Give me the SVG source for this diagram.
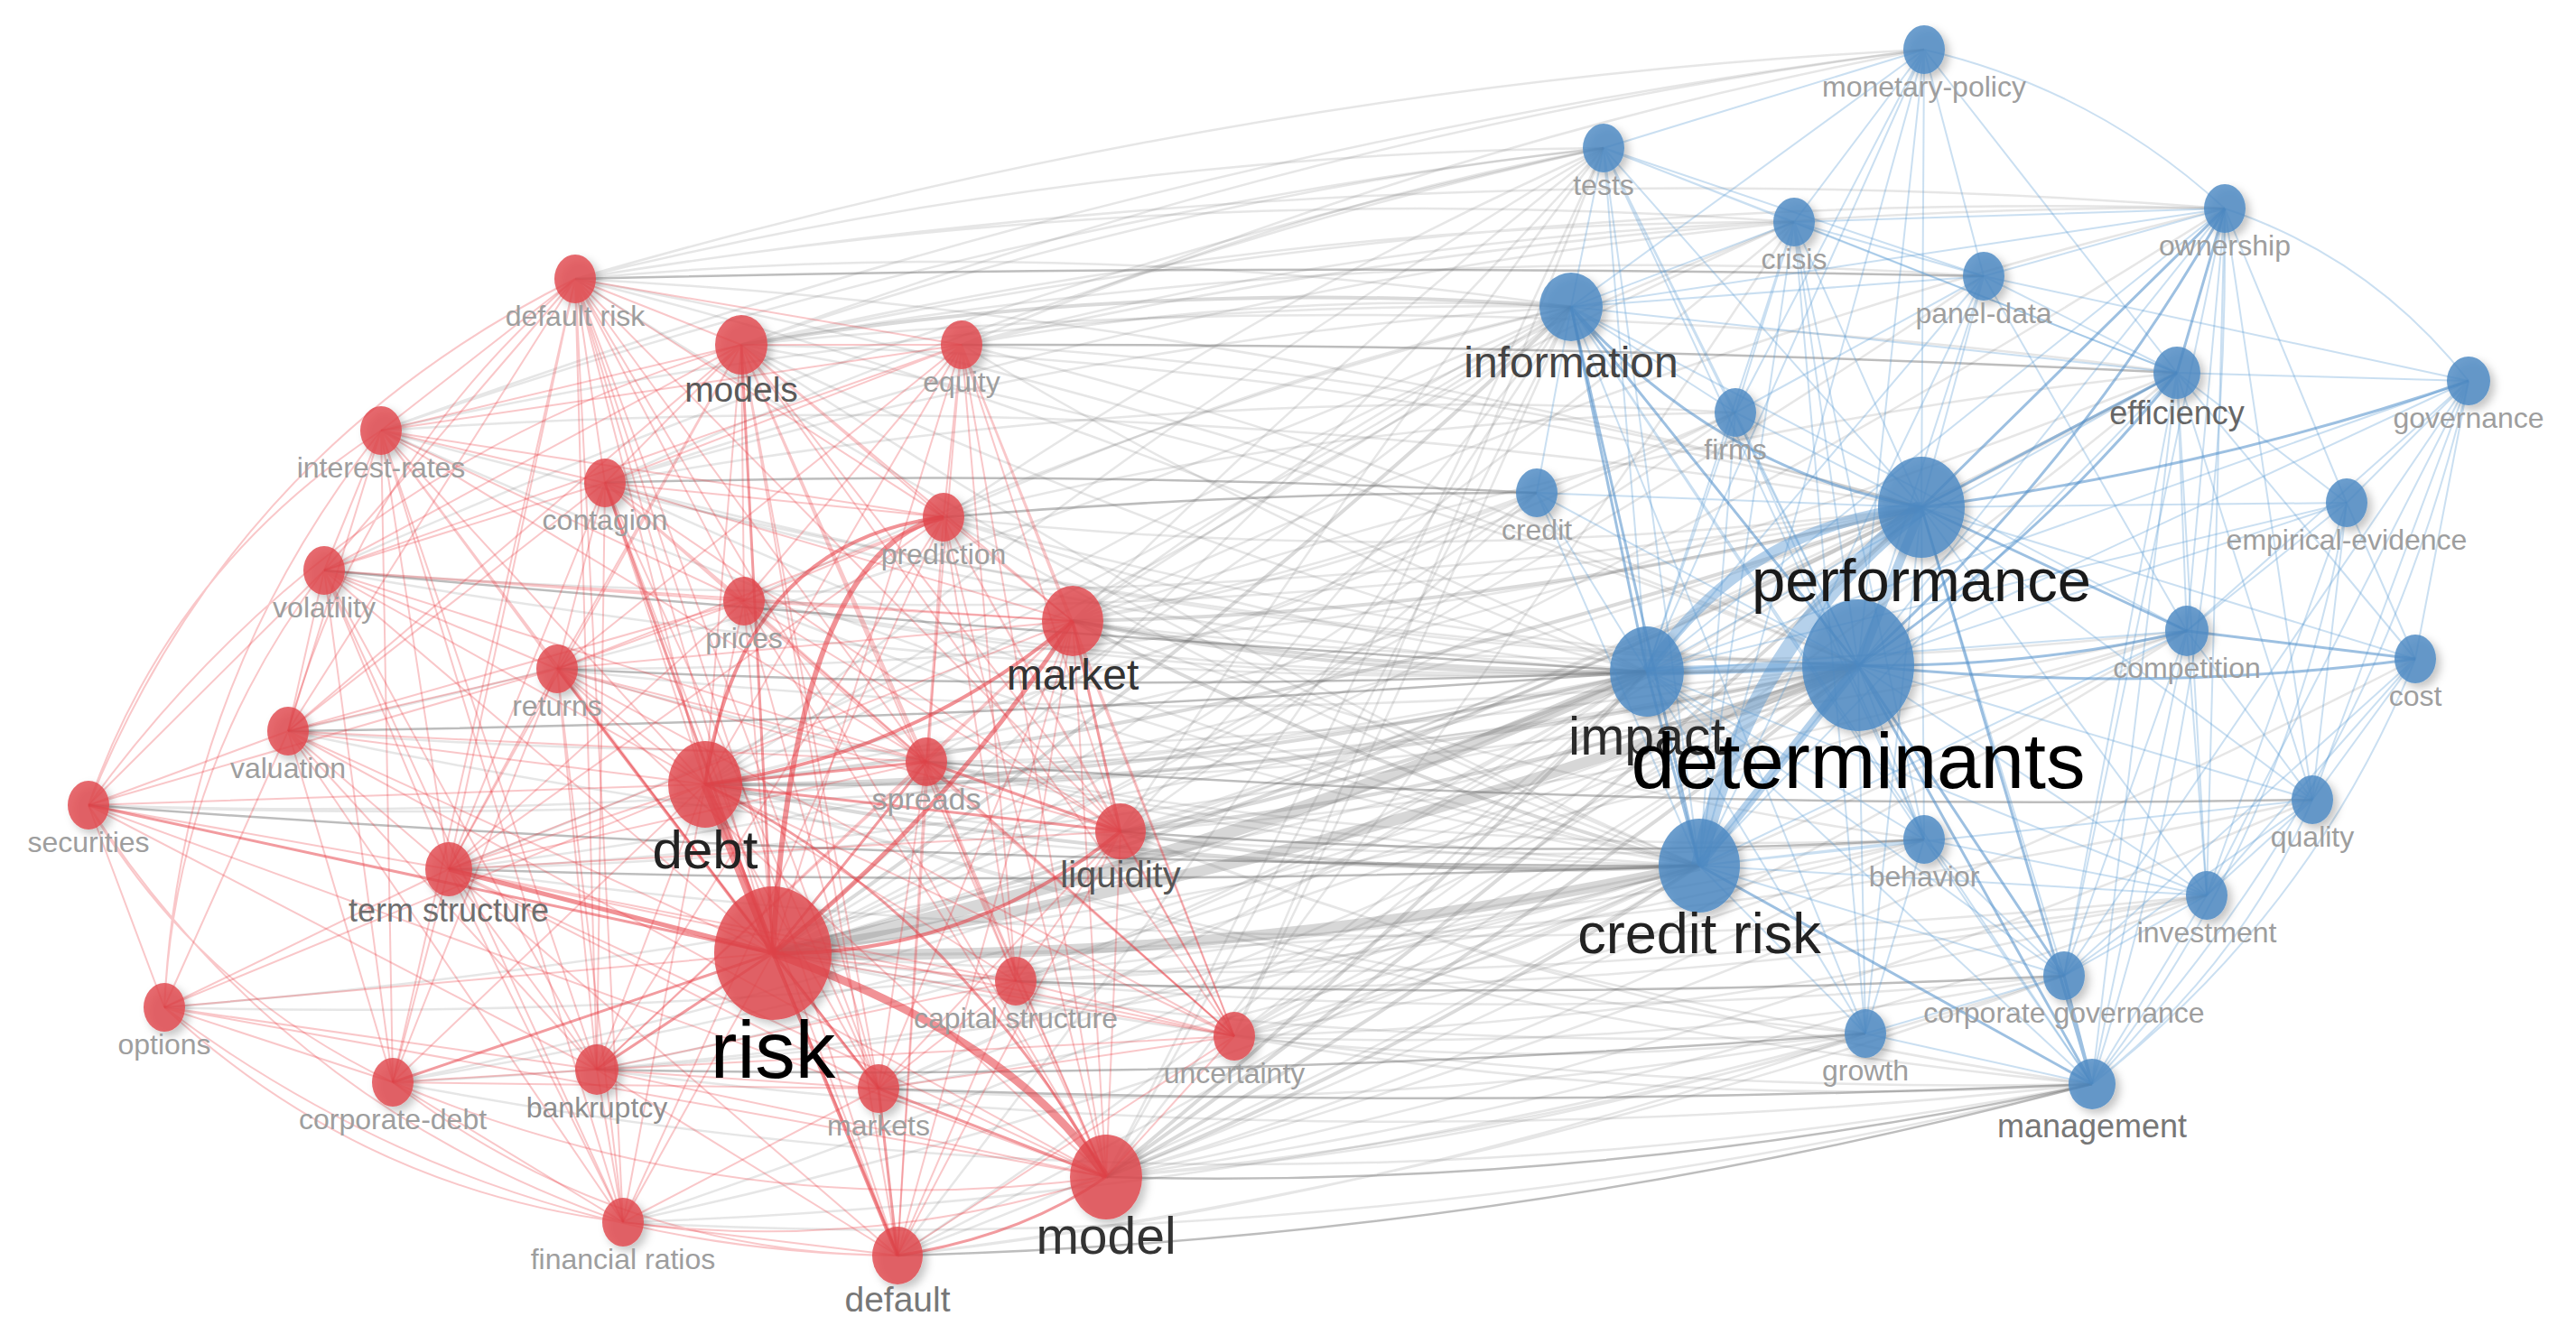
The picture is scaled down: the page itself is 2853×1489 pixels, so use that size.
<svg xmlns="http://www.w3.org/2000/svg" width="2853" height="1489" viewBox="0 0 2853 1489">
<defs>
<style>
.g{fill:none;stroke:#7a7a7a;stroke-opacity:.19;stroke-width:2.5}
.gd{fill:none;stroke:#5a5a5a;stroke-opacity:.4;stroke-width:2.5}
.gm{fill:none;stroke:#777;stroke-opacity:.27;stroke-width:4}
.gt{fill:none;stroke:#8a8a8a;stroke-opacity:.34}
.r{fill:none;stroke:#e8373e;stroke-opacity:.28;stroke-width:2}
.rm{fill:none;stroke:#e5383f;stroke-opacity:.5;stroke-width:3}
.rt{fill:none;stroke:#e5383f;stroke-opacity:.55}
.b{fill:none;stroke:#5b9ad3;stroke-opacity:.32;stroke-width:2}
.bm{fill:none;stroke:#4d8dc9;stroke-opacity:.55;stroke-width:3}
.bt{fill:none;stroke:#5b9ad3;stroke-opacity:.45}
.nr{fill:#e0434a;fill-opacity:.8;filter:url(#sh)}
.nb{fill:#4c89c3;fill-opacity:.82;filter:url(#sh)}
text{font-family:"Liberation Sans",Arial,sans-serif;text-anchor:middle}
.ls{font-size:32px;fill:#9e9e9e}
</style>
<filter id="sh" x="-50%" y="-50%" width="200%" height="200%"><feDropShadow dx="5" dy="5" stdDeviation="5" flood-color="#000" flood-opacity=".28"/></filter>
</defs>
<rect width="2853" height="1489" fill="#fff"/>
<g id="connectors">
<path class="gt" stroke-width="14" d="M856 1056Q1340 958 1824 744"/>
<path class="gt" stroke-width="12" d="M856 1056Q1457 969 2058 737"/>
<path class="gt" stroke-width="12" d="M856 1056Q1369 1070 1882 959"/>
<path class="gm" stroke-width="6" d="M856 1056Q1492 885 2128 562"/>
<path class="gm" d="M856 1056Q1298 751 1740 340"/>
<path class="g" d="M856 1056Q1279 852 1702 546M856 1056Q1389 821 1922 457M856 1056Q1316 665 1776 164M856 1056Q1422 719 1987 246M856 1056Q1494 1070 2131 930M856 1056Q1461 1174 2066 1145M856 1056Q1587 1217 2317 1201M856 1056Q1571 1155 2286 1081M856 1056Q1650 1119 2444 992M856 1056Q1639 972 2422 699M856 1056Q1634 828 2411 413M856 1056Q1709 1073 2561 886M856 1056Q1660 740 2464 231M856 1056Q1527 761 2197 306"/>
<path class="gm" stroke-width="6" d="M781 869Q1303 870 1824 744"/>
<path class="gm" stroke-width="6" d="M781 869Q1420 880 2058 737"/>
<path class="gm" stroke-width="5" d="M781 869Q1332 980 1882 959"/>
<path class="gm" d="M781 869Q1455 797 2128 562"/>
<path class="g" d="M781 869Q1261 663 1740 340M781 869Q1279 457 1776 164M781 869Q1384 486 1987 246M781 869Q1352 731 1922 457M781 869Q1242 763 1702 546M781 869Q1456 981 2131 930M781 869Q1424 1084 2066 1145M781 869Q1549 1127 2317 1201M781 869Q1602 882 2422 699M781 869Q1596 739 2411 413"/>
<path class="gm" stroke-width="5" d="M1188 688Q1506 754 1824 744"/>
<path class="gm" stroke-width="5" d="M1188 688Q1623 765 2058 737"/>
<path class="gm" d="M1188 688Q1535 866 1882 959"/>
<path class="gm" stroke-width="3" d="M1188 688Q1658 681 2128 562"/>
<path class="g" d="M1188 688Q1464 481 1740 340M1188 688Q1482 391 1776 164M1188 688Q1588 419 1987 246M1188 688Q1555 617 1922 457M1188 688Q1445 648 1702 546M1188 688Q1660 866 2131 930M1188 688Q1805 768 2422 699M1188 688Q1800 478 2411 413M1188 688Q1826 383 2464 231"/>
<path class="gm" stroke-width="6" d="M1225 1304Q1554 1171 1882 959"/>
<path class="gm" stroke-width="5" d="M1225 1304Q1642 1071 2058 737"/>
<path class="gm" d="M1225 1304Q1525 1060 1824 744"/>
<path class="gm" stroke-width="3" d="M1225 1304Q1677 987 2128 562"/>
<path class="gd" stroke-width="3" d="M1225 1304Q1771 1319 2317 1201"/>
<path class="g" d="M1225 1304Q1483 853 1740 340M1225 1304Q1501 767 1776 164M1225 1304Q1646 1275 2066 1145M1225 1304Q1678 1171 2131 930M1225 1304Q1756 1257 2286 1081M1225 1304Q1835 1221 2444 992M1225 1304Q1824 1074 2422 699M1225 1304Q1893 1175 2561 886M1225 1304Q1950 1104 2675 730M1225 1304Q1606 821 1987 246"/>
<path class="gm" stroke-width="5" d="M1241 921Q1562 978 1882 959"/>
<path class="gm" d="M1241 921Q1650 878 2058 737"/>
<path class="gm" stroke-width="3" d="M1241 921Q1533 868 1824 744"/>
<path class="gd" d="M1241 921Q1686 955 2131 930"/>
<path class="g" d="M1241 921Q1685 795 2128 562M1241 921Q1491 661 1740 340M1241 921Q1472 762 1702 546M1241 921Q1654 1082 2066 1145M1241 921Q1779 1126 2317 1201M1241 921Q1832 881 2422 699M1241 921Q1509 511 1776 164M1241 921Q1826 737 2411 413"/>
<path class="gm" stroke-width="3" d="M821 382Q1281 306 1740 340"/>
<path class="g" d="M821 382Q1475 394 2128 562M821 382Q1440 486 2058 737M821 382Q1323 623 1824 744M821 382Q1352 735 1882 959M821 382Q1299 216 1776 164M821 382Q1404 244 1987 246M821 382Q1509 261 2197 306M821 382Q1616 303 2411 413M821 382Q1476 140 2131 55M821 382Q1643 208 2464 231"/>
<path class="gd" d="M637 309Q1417 290 2197 306"/>
<path class="g" d="M637 309Q1189 259 1740 340M637 309Q1207 169 1776 164M637 309Q1312 197 1987 246M637 309Q1383 347 2128 562M637 309Q1348 438 2058 737M637 309Q1260 709 1882 959M637 309Q1231 456 1824 744M637 309Q1384 92 2131 55M637 309Q1551 161 2464 231"/>
<path class="gd" d="M1065 382Q1738 380 2411 413"/>
<path class="g" d="M1065 382Q1403 321 1740 340M1065 382Q1597 408 2128 562M1065 382Q1562 500 2058 737M1065 382Q1445 609 1824 744M1065 382Q1421 230 1776 164M1065 382Q1526 259 1987 246M1065 382Q1765 223 2464 231M1065 382Q1598 155 2131 55"/>
<path class="gd" d="M1045 573Q1374 545 1702 546"/>
<path class="g" d="M1045 573Q1587 633 2128 562M1045 573Q1552 716 2058 737M1045 573Q1435 706 1824 744M1045 573Q1464 816 1882 959M1045 573Q1393 415 1740 340M1045 573Q1484 462 1922 457M1045 573Q1411 325 1776 164"/>
<path class="gd" stroke-opacity=".3" d="M670 535Q1186 520 1702 546"/>
<path class="g" d="M670 535Q1205 374 1740 340M670 535Q1364 719 2058 737M670 535Q1247 709 1824 744M670 535Q1276 820 1882 959M670 535Q1329 312 1987 246M670 535Q1296 421 1922 457M670 535Q1223 284 1776 164"/>
<path class="gd" stroke-opacity=".3" d="M1026 844Q1794 900 2561 886"/>
<path class="g" d="M1026 844Q1542 853 2058 737M1026 844Q1425 842 1824 744M1026 844Q1454 953 1882 959M1026 844Q1579 953 2131 930M1026 844Q1383 635 1740 340"/>
<path class="g" d="M1367 1148Q1625 1085 1882 959M1367 1148Q1713 984 2058 737M1367 1148Q1596 973 1824 744M1367 1148Q1748 901 2128 562M1367 1148Q1749 1085 2131 930M1367 1148Q1827 1170 2286 1081M1367 1148Q1906 1135 2444 992M1367 1148Q1717 1189 2066 1145M1367 1148Q1842 1232 2317 1201M1367 1148Q1554 766 1740 340M1367 1148Q1895 987 2422 699M1367 1148Q1572 681 1776 164M1367 1148Q1889 844 2411 413"/>
<path class="gd" d="M1125 1087Q1706 1110 2286 1081"/>
<path class="g" d="M1125 1087Q1592 968 2058 737M1125 1087Q1504 1068 1882 959M1125 1087Q1475 958 1824 744M1125 1087Q1627 885 2128 562M1125 1087Q1628 1069 2131 930M1125 1087Q1785 1119 2444 992"/>
<path class="gd" d="M973 1206Q1645 1230 2317 1201"/>
<path class="g" d="M973 1206Q1428 1138 1882 959M973 1206Q1516 1037 2058 737M973 1206Q1399 1026 1824 744M973 1206Q1551 953 2128 562M973 1206Q1520 1242 2066 1145"/>
<path class="gd" stroke-opacity=".3" d="M994 1391Q1656 1375 2317 1201"/>
<path class="g" d="M994 1391Q1438 1228 1882 959M994 1391Q1526 1128 2058 737M994 1391Q1409 1118 1824 744M994 1391Q1530 1332 2066 1145M994 1391Q1640 1314 2286 1081M994 1391Q1367 911 1740 340"/>
<path class="gd" d="M497 963Q1190 985 1882 959"/>
<path class="g" d="M497 963Q1278 944 2058 737M497 963Q1161 934 1824 744M497 963Q1313 861 2128 562M497 963Q1471 1095 2444 992M497 963Q1119 727 1740 340"/>
<path class="gd" stroke-opacity=".3" d="M661 1185Q1364 1200 2066 1145"/>
<path class="g" d="M661 1185Q1272 1145 1882 959M661 1185Q1360 1045 2058 737M661 1185Q1489 1292 2317 1201"/>
<path class="gd" d="M617 741Q1221 770 1824 744"/>
<path class="g" d="M617 741Q1338 826 2058 737M617 741Q1250 926 1882 959M617 741Q1373 743 2128 562"/>
<path class="gd" stroke-opacity=".3" d="M319 810Q1072 800 1824 744"/>
<path class="g" d="M319 810Q1189 878 2058 737M319 810Q1101 979 1882 959M319 810Q1030 660 1740 340"/>
<path class="gd" stroke-opacity=".3" d="M98 892Q990 960 1882 959"/>
<path class="g" d="M98 892Q1078 933 2058 737M98 892Q961 922 1824 744"/>
<path class="gd" stroke-opacity=".3" d="M359 632Q1092 700 1824 744"/>
<path class="g" d="M359 632Q1209 787 2058 737M359 632Q1244 703 2128 562M359 632Q1068 313 1776 164"/>
<path class="g" d="M422 477Q1081 330 1740 340M422 477Q1240 705 2058 737M422 477Q1275 418 2128 562M422 477Q1152 806 1882 959M422 477Q1099 240 1776 164M422 477Q1277 163 2131 55"/>
<path class="g" d="M824 666Q1441 776 2058 737M824 666Q1324 765 1824 744M824 666Q1476 692 2128 562M824 666Q1353 877 1882 959M824 666Q1282 448 1740 340"/>
<path class="g" d="M182 1116Q1032 1140 1882 959M182 1116Q1120 1040 2058 737"/>
<path class="g" d="M435 1199Q1159 1166 1882 959M435 1199Q1247 1065 2058 737M435 1199Q1130 1055 1824 744M435 1199Q1376 1380 2317 1201"/>
<path class="g" d="M690 1354Q1286 1228 1882 959M690 1354Q1374 1128 2058 737M690 1354Q1378 1332 2066 1145M690 1354Q1504 1400 2317 1201"/>
<path class="r" d="M637 309L821 382M637 309L1065 382M637 309L422 477M637 309L670 535M637 309L1045 573M637 309L359 632M637 309L824 666M637 309L319 810M637 309L781 869M637 309L497 963M637 309L856 1056M637 309L661 1185M637 309L435 1199M637 309L690 1354M637 309L994 1391M637 309L1225 1304M637 309L1026 844M637 309L1241 921M637 309L973 1206"/>
<path class="r" d="M821 382L1065 382M821 382L422 477M821 382L670 535M821 382L1045 573M821 382L359 632M821 382L824 666M821 382L1188 688M821 382L617 741M821 382L781 869M821 382L1026 844M821 382L1241 921M821 382L497 963M821 382L1225 1304M821 382L973 1206M821 382L994 1391M821 382L1125 1087M821 382L319 810M821 382L1367 1148"/>
<path class="r" d="M1065 382L670 535M1065 382L1045 573M1065 382L824 666M1065 382L1188 688M1065 382L617 741M1065 382L781 869M1065 382L1026 844M1065 382L1241 921M1065 382L856 1056M1065 382L1225 1304M1065 382L1367 1148M1065 382L1125 1087M1065 382L359 632M1065 382L422 477"/>
<path class="r" d="M422 477L670 535M422 477L359 632M422 477L824 666M422 477L617 741M422 477L319 810M422 477L781 869M422 477L497 963M422 477L856 1056M422 477L435 1199M422 477L661 1185M422 477L690 1354M422 477L1026 844M422 477L1045 573"/>
<path class="r" d="M670 535L1045 573M670 535L359 632M670 535L824 666M670 535L1188 688M670 535L617 741M670 535L781 869M670 535L1026 844M670 535L661 1185M670 535L973 1206M670 535L994 1391M670 535L319 810M670 535L497 963M670 535L1241 921M670 535L1367 1148"/>
<path class="r" d="M1045 573L824 666M1045 573L1188 688M1045 573L617 741M1045 573L1026 844M1045 573L1241 921M1045 573L1225 1304M1045 573L1125 1087M1045 573L1367 1148M1045 573L661 1185M1045 573L690 1354M1045 573L994 1391M1045 573L497 963"/>
<path class="r" d="M359 632L824 666M359 632L617 741M359 632L319 810M359 632L781 869M359 632L98 892M359 632L497 963M359 632L856 1056M359 632L435 1199M359 632L1188 688M359 632L690 1354M359 632L661 1185M359 632L1026 844"/>
<path class="r" d="M824 666L1188 688M824 666L617 741M824 666L781 869M824 666L1026 844M824 666L1241 921M824 666L856 1056M824 666L1225 1304M824 666L319 810M824 666L497 963M824 666L973 1206M824 666L1367 1148"/>
<path class="r" d="M1188 688L617 741M1188 688L1026 844M1188 688L1225 1304M1188 688L1125 1087M1188 688L1367 1148M1188 688L973 1206M1188 688L994 1391M1188 688L497 963M1188 688L661 1185"/>
<path class="r" d="M617 741L319 810M617 741L781 869M617 741L1026 844M617 741L497 963M617 741L661 1185M617 741L435 1199M617 741L973 1206M617 741L1225 1304M617 741L690 1354M617 741L98 892M617 741L1241 921M617 741L1367 1148"/>
<path class="r" d="M319 810L781 869M319 810L98 892M319 810L497 963M319 810L856 1056M319 810L182 1116M319 810L435 1199M319 810L661 1185M319 810L690 1354M319 810L1026 844M319 810L1225 1304"/>
<path class="r" d="M781 869L497 963M781 869L1125 1087M781 869L1367 1148M781 869L661 1185M781 869L973 1206M781 869L994 1391M781 869L690 1354M781 869L98 892M781 869L182 1116M781 869L435 1199"/>
<path class="r" d="M1026 844L497 963M1026 844L1125 1087M1026 844L1367 1148M1026 844L973 1206M1026 844L1225 1304M1026 844L994 1391M1026 844L661 1185"/>
<path class="r" d="M98 892L497 963M98 892L182 1116M98 892L661 1185M98 892L1225 1304"/>
<path class="r" d="M1241 921L1125 1087M1241 921L1367 1148M1241 921L973 1206M1241 921L1225 1304M1241 921L994 1391M1241 921L497 963"/>
<path class="r" d="M497 963L182 1116M497 963L435 1199M497 963L661 1185M497 963L973 1206M497 963L1225 1304M497 963L690 1354M497 963L994 1391M497 963L1125 1087M497 963L1367 1148"/>
<path class="r" d="M856 1056L1125 1087M856 1056L182 1116M856 1056L1367 1148M856 1056L690 1354"/>
<path class="r" d="M1125 1087L1367 1148M1125 1087L973 1206M1125 1087L1225 1304M1125 1087L994 1391M1125 1087L661 1185"/>
<path class="r" d="M182 1116L435 1199M182 1116L661 1185M182 1116L1225 1304"/>
<path class="r" d="M1367 1148L973 1206M1367 1148L1225 1304M1367 1148L994 1391M1367 1148L661 1185"/>
<path class="r" d="M435 1199L661 1185M435 1199L690 1354M435 1199L973 1206"/>
<path class="r" d="M661 1185L973 1206M661 1185L1225 1304M661 1185L690 1354M661 1185L994 1391"/>
<path class="r" d="M973 1206L690 1354M690 1354L994 1391"/>
<path class="r" d="M98 892Q257 498 637 309M98 892Q189 629 422 477M98 892Q373 514 821 382M182 1116Q195 847 359 632M182 1116Q199 758 422 477M182 1116Q398 1317 690 1354M182 1116Q543 1386 994 1391M98 892Q314 1225 690 1354M98 892Q219 1097 435 1199M435 1199Q682 1390 994 1391M435 1199Q816 1360 1225 1304M690 1354Q963 1389 1225 1304M319 810Q402 511 637 309"/>
<path class="rm" d="M856 1056L661 1185M856 1056L973 1206M856 1056L821 382M856 1056L1026 844M856 1056L435 1199M856 1056L617 741M856 1056L98 892M856 1056L670 535"/>
<path class="rm" d="M781 869L1026 844M781 869L1241 921M973 1206L994 1391M973 1206L1225 1304M1026 844L1241 921M1188 688L1241 921"/>
<path class="rm" d="M781 869Q1050 1000 1225 1304"/>
<path class="rm" d="M994 1391Q1130 1370 1225 1304"/>
<path class="rt" stroke-width="4" d="M856 1056Q1073 1059 1241 921"/>
<path class="rt" stroke-width="4" d="M856 1056L994 1391"/>
<path class="rt" stroke-width="5" d="M856 1056L497 963"/>
<path class="rt" stroke-width="5" d="M856 1056Q1052 899 1188 688"/>
<path class="rt" stroke-width="4" d="M781 869Q1011 837 1188 688"/>
<path class="rt" stroke-width="4" d="M781 869Q820 600 1045 573"/>
<path class="rt" stroke-width="6" d="M856 1056Q880 610 1045 573"/>
<path class="rt" stroke-width="9" stroke-opacity=".5" d="M856 1056Q1123 1150 1225 1304"/>
<path class="rt" stroke-width="10" d="M856 1056L781 869"/>
<path class="b" d="M2131 55L1776 164M2131 55L1987 246M2131 55L1740 340M2131 55L2128 562M2131 55L2058 737M2131 55L1824 744M2131 55L2411 413M2131 55L1922 457M2131 55L1882 959M2131 55L2197 306"/>
<path class="b" d="M1776 164L1987 246M1776 164L1740 340M1776 164L2128 562M1776 164L2058 737M1776 164L1824 744M1776 164L1882 959M1776 164L1922 457M1776 164L2197 306M1776 164L2411 413M1776 164L2131 930"/>
<path class="b" d="M1987 246L2197 306M1987 246L1740 340M1987 246L2128 562M1987 246L2058 737M1987 246L1824 744M1987 246L1882 959M1987 246L2464 231M1987 246L1922 457M1987 246L2411 413M1987 246L2131 930M1987 246L2066 1145"/>
<path class="b" d="M2464 231L2599 557M2464 231L2422 699M2464 231L2286 1081M2464 231L2444 992M2464 231L2197 306M2464 231L1740 340M2464 231L1824 744M2464 231L1882 959M2464 231L2561 886"/>
<path class="b" d="M2197 306L1740 340M2197 306L2128 562M2197 306L2058 737M2197 306L1824 744M2197 306L2411 413M2197 306L1922 457M2197 306L1882 959M2197 306L2422 699M2197 306L2734 422"/>
<path class="b" d="M1740 340L1922 457M1740 340L1702 546M1740 340L2411 413M1740 340L2131 930M1740 340L2066 1145M1740 340L2422 699M1740 340L2317 1201"/>
<path class="b" d="M2411 413L2734 422M2411 413L2599 557M2411 413L2422 699M2411 413L1824 744M2411 413L1882 959M2411 413L2675 730M2411 413L2561 886M2411 413L2444 992M2411 413L2317 1201M2411 413L2286 1081"/>
<path class="b" d="M2734 422L2058 737M2734 422L2599 557M2734 422L2422 699M2734 422L2675 730M2734 422L2561 886M2734 422L2444 992M2734 422L2286 1081M2734 422L1824 744"/>
<path class="b" d="M1922 457L2128 562M1922 457L2058 737M1922 457L1824 744M1922 457L1882 959M1922 457L2131 930M1702 546L2128 562M1702 546L2058 737M1702 546L1824 744M1702 546L1882 959"/>
<path class="b" d="M2128 562L2599 557M2128 562L2675 730M2128 562L2561 886M2128 562L2131 930M2128 562L2444 992M2128 562L2286 1081M2128 562L2066 1145"/>
<path class="b" d="M2599 557L2058 737M2599 557L2422 699M2599 557L2675 730M2599 557L2561 886M2599 557L2444 992M2599 557L1824 744"/>
<path class="b" d="M2422 699L2561 886M2422 699L2444 992M2422 699L1824 744M2422 699L1882 959M2422 699L2317 1201M2422 699L2286 1081M2675 730L2561 886M2675 730L2444 992M2675 730L2286 1081"/>
<path class="b" d="M1824 744L2131 930M1824 744L2066 1145M1824 744L2317 1201M1824 744L2286 1081M1824 744L2444 992M2058 737L2561 886M2058 737L2131 930M2058 737L2444 992M2058 737L2066 1145"/>
<path class="b" d="M2561 886L2444 992M2561 886L2286 1081M2561 886L1882 959M2131 930L1882 959M2131 930L2317 1201M2131 930L2286 1081M2131 930L2066 1145M2131 930L2444 992"/>
<path class="b" d="M1882 959L2444 992M1882 959L2286 1081M1882 959L2066 1145M2444 992L2286 1081M2444 992L2317 1201M2286 1081L2066 1145M2066 1145L2317 1201"/>
<path class="b" d="M2734 422Q2631 868 2317 1201M2675 730Q2560 1014 2317 1201M2599 557Q2540 915 2317 1201M2561 886Q2479 1074 2317 1201M2464 231Q2628 286 2734 422M2131 55Q2321 99 2464 231M2464 231Q2470 728 2317 1201"/>
<path class="bm" stroke-width="4" d="M1740 340L1824 744"/>
<path class="bm" d="M1740 340Q1900 520 2128 562M1740 340L1882 959M1740 340L2058 737M1882 959L2317 1201M2058 737L2317 1201M2058 737L2286 1081M2128 562L2317 1201M2286 1081L2317 1201M2422 699L2675 730M2411 413L2464 231M2128 562Q2450 520 2734 422"/>
<path class="bm" stroke-width="4" d="M2058 737Q2380 770 2675 730M1824 744L1882 959M2128 562L2464 231M2128 562L2422 699"/>
<path class="bm" stroke-width="5" d="M2058 737Q2300 520 2464 231"/>
<path class="bm" stroke-width="6" d="M2128 562L2411 413"/>
<path class="bm" stroke-width="7" stroke-opacity=".45" d="M2058 737Q2260 600 2411 413"/>
<path class="bm" stroke-width="7" stroke-opacity=".45" d="M2058 737Q2250 740 2422 699"/>
<path class="bt" stroke-width="18" stroke-opacity=".4" d="M1882 959Q1932 714 2128 562"/>
<path class="bt" stroke-width="12" d="M1824 744Q1933 581 2128 562"/>
<path class="bt" stroke-width="10" stroke-opacity=".6" d="M1824 744L2058 737"/>
<path class="bt" stroke-width="10" d="M2058 737L2128 562"/>
<path class="bt" stroke-width="10" d="M1882 959L2058 737"/>
</g>
<g id="node-default-risk"><ellipse class="nr" cx="637" cy="309" rx="23" ry="27"/><text class="ls" x="637" y="361">default risk</text></g>
<g id="node-equity"><ellipse class="nr" cx="1065" cy="382" rx="23" ry="27"/><text class="ls" x="1065" y="434">equity</text></g>
<g id="node-interest-rates"><ellipse class="nr" cx="422" cy="477" rx="23" ry="27"/><text class="ls" x="422" y="529">interest-rates</text></g>
<g id="node-contagion"><ellipse class="nr" cx="670" cy="535" rx="23" ry="27"/><text class="ls" x="670" y="587">contagion</text></g>
<g id="node-prediction"><ellipse class="nr" cx="1045" cy="573" rx="23" ry="27"/><text class="ls" x="1045" y="625">prediction</text></g>
<g id="node-volatility"><ellipse class="nr" cx="359" cy="632" rx="23" ry="27"/><text class="ls" x="359" y="684">volatility</text></g>
<g id="node-prices"><ellipse class="nr" cx="824" cy="666" rx="23" ry="27"/><text class="ls" x="824" y="718">prices</text></g>
<g id="node-returns"><ellipse class="nr" cx="617" cy="741" rx="23" ry="27"/><text class="ls" x="617" y="793">returns</text></g>
<g id="node-valuation"><ellipse class="nr" cx="319" cy="810" rx="23" ry="27"/><text class="ls" x="319" y="862">valuation</text></g>
<g id="node-spreads"><ellipse class="nr" cx="1026" cy="844" rx="23" ry="27"/><text class="ls" x="1026" y="897" style="font-size:34px">spreads</text></g>
<g id="node-securities"><ellipse class="nr" cx="98" cy="892" rx="23" ry="27"/><text class="ls" x="98" y="944">securities</text></g>
<g id="node-capital-structure"><ellipse class="nr" cx="1125" cy="1087" rx="23" ry="27"/><text class="ls" x="1125" y="1139">capital structure</text></g>
<g id="node-options"><ellipse class="nr" cx="182" cy="1116" rx="23" ry="27"/><text class="ls" x="182" y="1168">options</text></g>
<g id="node-uncertainty"><ellipse class="nr" cx="1367" cy="1148" rx="23" ry="27"/><text class="ls" x="1367" y="1200">uncertainty</text></g>
<g id="node-corporate-debt"><ellipse class="nr" cx="435" cy="1199" rx="23" ry="27"/><text class="ls" x="435" y="1251">corporate-debt</text></g>
<g id="node-bankruptcy"><ellipse class="nr" cx="661" cy="1185" rx="24" ry="28"/><text class="ls" x="661" y="1238" style="fill:#8e8e8e">bankruptcy</text></g>
<g id="node-markets"><ellipse class="nr" cx="973" cy="1206" rx="23" ry="27"/><text class="ls" x="973" y="1258">markets</text></g>
<g id="node-financial-ratios"><ellipse class="nr" cx="690" cy="1354" rx="23" ry="27"/><text class="ls" x="690" y="1406">financial ratios</text></g>
<g id="node-models"><ellipse class="nr" cx="821" cy="382" rx="29" ry="33"/><text x="821" y="445" style="font-size:39px;fill:#5a5a5a">models</text></g>
<g id="node-term-structure"><ellipse class="nr" cx="497" cy="963" rx="26" ry="30"/><text x="497" y="1021" style="font-size:36px;fill:#6e6e6e">term structure</text></g>
<g id="node-liquidity"><ellipse class="nr" cx="1241" cy="921" rx="28" ry="31"/><text x="1241" y="983" style="font-size:40px;fill:#555">liquidity</text></g>
<g id="node-default"><ellipse class="nr" cx="994" cy="1391" rx="28" ry="32"/><text x="994" y="1453" style="font-size:39px;fill:#777">default</text></g>
<g id="node-market"><ellipse class="nr" cx="1188" cy="688" rx="34" ry="39"/><text x="1188" y="764" style="font-size:48px;fill:#333">market</text></g>
<g id="node-model"><ellipse class="nr" cx="1225" cy="1304" rx="40" ry="47"/><text x="1225" y="1389" style="font-size:57px;fill:#333">model</text></g>
<g id="node-debt"><ellipse class="nr" cx="781" cy="869" rx="41" ry="48"/><text x="781" y="962" style="font-size:60px;fill:#222">debt</text></g>
<g id="node-risk"><ellipse class="nr" cx="856" cy="1056" rx="65" ry="74"/><text x="856" y="1194" style="font-size:89px;fill:#000">risk</text></g>
<g id="node-monetary-policy"><ellipse class="nb" cx="2131" cy="55" rx="23" ry="27"/><text class="ls" x="2131" y="107">monetary-policy</text></g>
<g id="node-tests"><ellipse class="nb" cx="1776" cy="164" rx="23" ry="27"/><text class="ls" x="1776" y="216">tests</text></g>
<g id="node-crisis"><ellipse class="nb" cx="1987" cy="246" rx="23" ry="27"/><text class="ls" x="1987" y="298">crisis</text></g>
<g id="node-ownership"><ellipse class="nb" cx="2464" cy="231" rx="23" ry="27"/><text class="ls" x="2464" y="283">ownership</text></g>
<g id="node-panel-data"><ellipse class="nb" cx="2197" cy="306" rx="23" ry="27"/><text class="ls" x="2197" y="358">panel-data</text></g>
<g id="node-governance"><ellipse class="nb" cx="2734" cy="422" rx="24" ry="27"/><text class="ls" x="2734" y="474">governance</text></g>
<g id="node-firms"><ellipse class="nb" cx="1922" cy="457" rx="23" ry="27"/><text class="ls" x="1922" y="509">firms</text></g>
<g id="node-credit"><ellipse class="nb" cx="1702" cy="546" rx="23" ry="27"/><text class="ls" x="1702" y="598">credit</text></g>
<g id="node-empirical-evidence"><ellipse class="nb" cx="2599" cy="557" rx="23" ry="27"/><text class="ls" x="2599" y="609">empirical-evidence</text></g>
<g id="node-competition"><ellipse class="nb" cx="2422" cy="699" rx="24" ry="28"/><text class="ls" x="2422" y="751">competition</text></g>
<g id="node-cost"><ellipse class="nb" cx="2675" cy="730" rx="23" ry="27"/><text class="ls" x="2675" y="782">cost</text></g>
<g id="node-quality"><ellipse class="nb" cx="2561" cy="886" rx="23" ry="27"/><text class="ls" x="2561" y="938">quality</text></g>
<g id="node-behavior"><ellipse class="nb" cx="2131" cy="930" rx="23" ry="27"/><text class="ls" x="2131" y="982">behavior</text></g>
<g id="node-investment"><ellipse class="nb" cx="2444" cy="992" rx="23" ry="27"/><text class="ls" x="2444" y="1044">investment</text></g>
<g id="node-corporate-governance"><ellipse class="nb" cx="2286" cy="1081" rx="23" ry="27"/><text class="ls" x="2286" y="1133">corporate governance</text></g>
<g id="node-growth"><ellipse class="nb" cx="2066" cy="1145" rx="23" ry="27"/><text class="ls" x="2066" y="1197">growth</text></g>
<g id="node-management"><ellipse class="nb" cx="2317" cy="1201" rx="26" ry="28"/><text x="2317" y="1260" style="font-size:36px;fill:#777">management</text></g>
<g id="node-efficiency"><ellipse class="nb" cx="2411" cy="413" rx="26" ry="29"/><text x="2411" y="470" style="font-size:36px;fill:#666">efficiency</text></g>
<g id="node-information"><ellipse class="nb" cx="1740" cy="340" rx="35" ry="38"/><text x="1740" y="418" style="font-size:48px;fill:#444">information</text></g>
<g id="node-credit-risk"><ellipse class="nb" cx="1882" cy="959" rx="45" ry="52"/><text x="1882" y="1056" style="font-size:63px;fill:#222">credit risk</text></g>
<g id="node-impact"><ellipse class="nb" cx="1824" cy="744" rx="41" ry="50"/><text x="1824" y="836" style="font-size:59px;fill:#2a2a2a">impact</text></g>
<g id="node-determinants"><ellipse class="nb" cx="2058" cy="737" rx="62" ry="73"/><text x="2058" y="873" style="font-size:87px;fill:#000">determinants</text></g>
<g id="node-performance"><ellipse class="nb" cx="2128" cy="562" rx="48" ry="56"/><text x="2128" y="666" style="font-size:67px;fill:#1a1a1a">performance</text></g>
</svg>
